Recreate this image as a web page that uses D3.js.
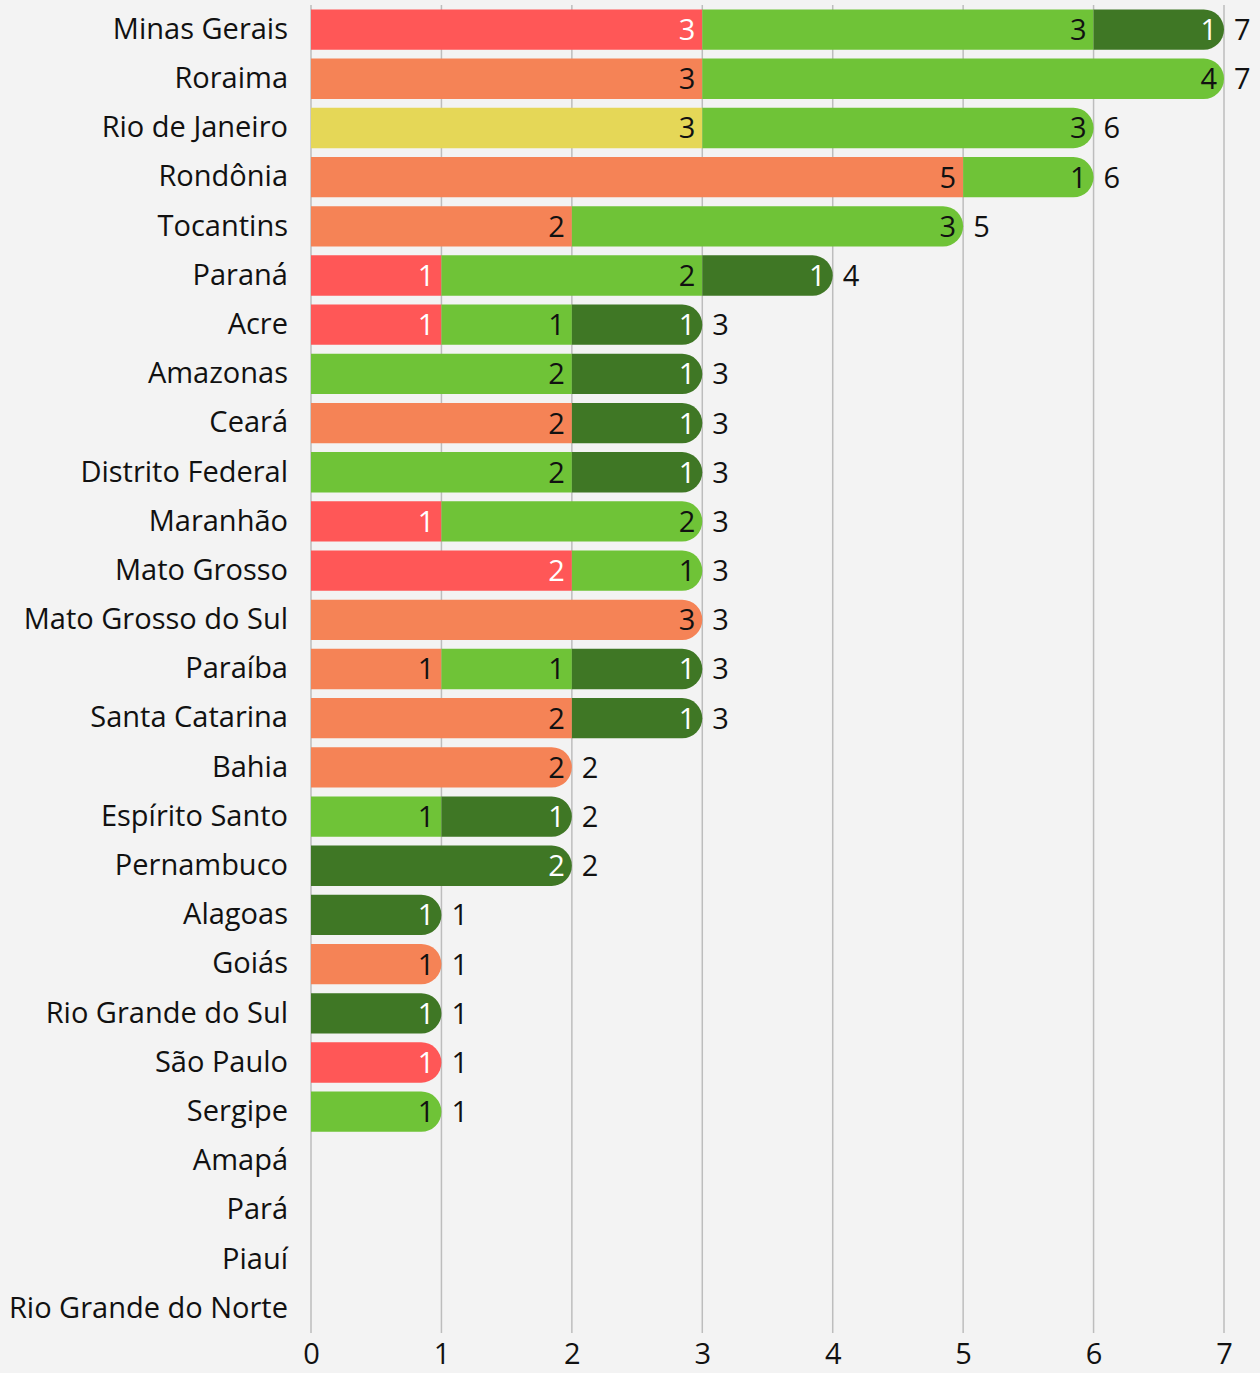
<!DOCTYPE html>
<html>
<head>
<meta charset="utf-8">
<script src="https://cdn.jsdelivr.net/npm/d3@7"></script>
<style>
  html, body { margin: 0; padding: 0; background: #f3f3f3; }
  svg { display: block; font-family: "Open Sans", sans-serif; }
</style>
</head>
<body>
<svg id="chart" width="1260" height="1373"></svg>
<script>
// estados, de cima para baixo
const states = ["Minas Gerais", "Roraima", "Rio de Janeiro", "Rondônia", "Tocantins", "Paraná",
  "Acre", "Amazonas", "Ceará", "Distrito Federal", "Maranhão", "Mato Grosso", "Mato Grosso do Sul",
  "Paraíba", "Santa Catarina", "Bahia", "Espírito Santo", "Pernambuco", "Alagoas", "Goiás",
  "Rio Grande do Sul", "São Paulo", "Sergipe", "Amapá", "Pará", "Piauí", "Rio Grande do Norte"];

// valores por série (mesma ordem dos estados)
const redValues       = [3,0,0,0,0,1,1,0,0,0,1,2,0,0,0,0,0,0,0,0,0,1,0,0,0,0,0];
const orangeValues    = [0,3,0,5,2,0,0,0,2,0,0,0,3,1,2,2,0,0,0,1,0,0,0,0,0,0,0];
const yellowValues    = [0,0,3,0,0,0,0,0,0,0,0,0,0,0,0,0,0,0,0,0,0,0,0,0,0,0,0];
const greenValues     = [3,4,3,1,3,2,1,2,0,2,2,1,0,1,0,0,1,0,0,0,0,0,1,0,0,0,0];
const darkGreenValues = [1,0,0,0,0,1,1,1,1,1,0,0,0,1,1,0,1,2,1,0,1,0,0,0,0,0,0];

const seriesKeys = ["red", "orange", "yellow", "green", "darkGreen"];
const seriesColors = ["#ff5757", "#f58356", "#e5d757", "#6fc337", "#3f7725"];
const seriesTextColors = ["#fff", "#111", "#111", "#111", "#fff"];
const xTicks = [0, 1, 2, 3, 4, 5, 6, 7];

const rows = states.map((s, i) => ({
  state: s,
  red: redValues[i], orange: orangeValues[i], yellow: yellowValues[i],
  green: greenValues[i], darkGreen: darkGreenValues[i]
}));

const fontSize = 29;
const svg = d3.select("#chart");
const margin = { left: 311, right: 36, top: 5, bottom: 40 };
const width = 1260, height = 1373;

const x = d3.scaleLinear().domain([0, 7]).range([margin.left, width - margin.right]);
const y = d3.scaleBand().domain(states)
  .range([margin.top, height - margin.bottom])
  .paddingInner(0.18).paddingOuter(0.09);

// --- grade vertical ---
svg.append("g")
  .selectAll("line")
  .data(xTicks)
  .join("line")
  .attr("x1", d => x(d)).attr("x2", d => x(d))
  .attr("y1", margin.top).attr("y2", height - margin.bottom)
  .attr("stroke", "#bdbdbd").attr("stroke-width", 1.5);

// --- barras empilhadas ---
const stacked = d3.stack().keys(seriesKeys)(rows);
const h = y.bandwidth();
const r = h / 2;

// último segmento não-vazio de cada linha fica arredondado
const lastKey = rows.map(row => {
  let k = null;
  seriesKeys.forEach(key => { if (row[key] > 0) k = key; });
  return k;
});

function segPath(x0, x1, y0, rounded) {
  if (!rounded) return `M${x0},${y0}H${x1}V${y0 + h}H${x0}Z`;
  const rr = Math.min(r, x1 - x0);
  return `M${x0},${y0}H${x1 - rr}A${rr},${r} 0 0 1 ${x1},${y0 + r}` +
    `A${rr},${r} 0 0 1 ${x1 - rr},${y0 + h}H${x0}Z`;
}

stacked.forEach((layer, si) => {
  const g = svg.append("g");
  const segs = layer.map((d, i) => ({ d, i, v: d[1] - d[0] })).filter(s => s.v > 0);
  g.selectAll("path")
    .data(segs)
    .join("path")
    .attr("d", s => segPath(x(s.d[0]), x(s.d[1]), y(states[s.i]), lastKey[s.i] === layer.key))
    .attr("fill", seriesColors[si]);
  g.selectAll("text")
    .data(segs)
    .join("text")
    .attr("x", s => x(s.d[1]) - 7)
    .attr("y", s => y(states[s.i]) + h / 2)
    .attr("dy", "0.36em")
    .attr("text-anchor", "end")
    .attr("font-size", fontSize)
    .attr("fill", seriesTextColors[si])
    .text(s => s.v);
});

// --- totais ---
svg.append("g")
  .selectAll("text")
  .data(rows.filter(row => seriesKeys.some(k => row[k] > 0)))
  .join("text")
  .attr("x", row => x(d3.sum(seriesKeys, k => row[k])) + 10)
  .attr("y", row => y(row.state) + h / 2)
  .attr("dy", "0.36em")
  .attr("font-size", fontSize)
  .attr("fill", "#111")
  .text(row => d3.sum(seriesKeys, k => row[k]));

// --- eixo Y (nomes) ---
const yAxis = svg.append("g")
  .attr("transform", `translate(${margin.left},0)`)
  .call(d3.axisLeft(y).tickSize(0).tickPadding(23));
yAxis.select(".domain").remove();
yAxis.selectAll("text").attr("font-size", fontSize).attr("fill", "#111")
  .attr("font-family", "'Open Sans', sans-serif");

// --- eixo X ---
const xAxis = svg.append("g")
  .attr("transform", `translate(0,${height - margin.bottom})`)
  .call(d3.axisBottom(x).tickValues(xTicks).tickFormat(d3.format("d")).tickSize(0).tickPadding(10));
xAxis.select(".domain").remove();
xAxis.selectAll("text").attr("font-size", fontSize).attr("fill", "#111")
  .attr("font-family", "'Open Sans', sans-serif");
</script>
</body>
</html>
